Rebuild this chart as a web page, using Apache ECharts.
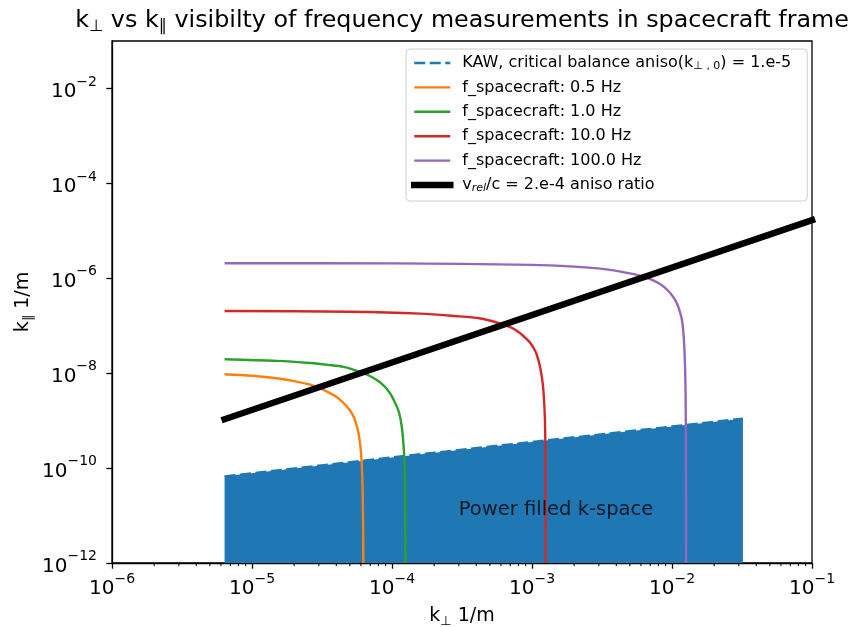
<!DOCTYPE html>
<html>
<head>
<meta charset="utf-8">
<script src="https://cdn.jsdelivr.net/npm/echarts@6/dist/echarts.min.js"></script>
<style>
  html, body { margin: 0; padding: 0; background: #ffffff; }
  #chart { width: 861px; height: 627px; }
</style>
</head>
<body>
<div id="chart"></div>
<script>
// ---- axis ranges and ticks (wavenumbers in 1/m) ----
const xMin = 1e-6, xMax = 1e-1;
const yMin = 1e-12, yMax = 1e-1;
const xMajorTicks = [1e-6, 1e-5, 1e-4, 1e-3, 1e-2, 1e-1];
const yMajorTicks = [1e-12, 1e-10, 1e-8, 1e-6, 1e-4, 1e-2];
const minorMultipliers = [2, 3, 4, 5, 6, 7, 8, 9];

// ---- KAW critical-balance boundary (top of the filled region) ----
const kawKperp = [6.37e-6, 3e-5, 1e-4, 1e-3, 1e-2, 3.21e-2];
const kawKpar  = [6.7e-11, 1.12e-10, 1.68e-10, 3.55e-10, 7.5e-10, 1.1e-9];

// ---- contours of constant spacecraft-frame frequency ----
const f05Kperp = [6.37e-6, 1e-5, 1.51e-5, 2e-5, 2.61e-5, 3e-5, 3.43e-5, 4.0e-5, 4.51e-5, 5.0e-5, 5.32e-5, 5.55e-5, 5.77e-5, 5.9e-5, 6.01e-5, 6.12e-5, 6.2e-5, 6.24e-5];
const f05Kpar  = [9.5e-9, 8.8e-9, 7.8e-9, 6.8e-9, 5.7e-9, 4.9e-9, 4.1e-9, 3.2e-9, 2.35e-9, 1.65e-9, 1.2e-9, 8.5e-10, 5.4e-10, 3.4e-10, 2.05e-10, 8e-11, 1.5e-11, 1e-12];

const f1Kperp = [6.37e-6, 1.5e-5, 2.61e-5, 3.5e-5, 4.51e-5, 5.95e-5, 7.0e-5, 7.82e-5, 8.5e-5, 9.0e-5, 9.73e-5, 1.03e-4, 1.08e-4, 1.125e-4, 1.17e-4, 1.2e-4, 1.225e-4, 1.24e-4, 1.245e-4];
const f1Kpar  = [1.97e-8, 1.82e-8, 1.64e-8, 1.5e-8, 1.36e-8, 1.06e-8, 8.6e-9, 7.1e-9, 5.9e-9, 5.0e-9, 3.7e-9, 2.7e-9, 2.0e-9, 1.45e-9, 8e-10, 4e-10, 1.6e-10, 3e-11, 1e-12];

const f10Kperp = [6.37e-6, 5e-5, 1.6e-4, 2.8e-4, 4.28e-4, 5.6e-4, 7.0e-4, 8.0e-4, 8.71e-4, 9.7e-4, 1.057e-3, 1.11e-3, 1.145e-3, 1.19e-3, 1.215e-3, 1.235e-3, 1.245e-3, 1.25e-3];
const f10Kpar  = [2.05e-7, 1.97e-7, 1.8e-7, 1.6e-7, 1.42e-7, 1.17e-7, 9.3e-8, 7.4e-8, 6.0e-8, 4.4e-8, 2.9e-8, 1.9e-8, 1.3e-8, 6.5e-9, 3.2e-9, 1.2e-9, 3e-10, 1e-12];

const f100Kperp = [6.37e-6, 1e-4, 1e-3, 2e-3, 3.08e-3, 4.2e-3, 5.32e-3, 6.2e-3, 7.0e-3, 8.2e-3, 9.2e-3, 1.03e-2, 1.08e-2, 1.114e-2, 1.17e-2, 1.2e-2, 1.225e-2, 1.245e-2, 1.255e-2, 1.26e-2];
const f100Kpar  = [2.08e-6, 2.06e-6, 1.92e-6, 1.76e-6, 1.6e-6, 1.4e-6, 1.22e-6, 1.09e-6, 9.6e-7, 7.6e-7, 5.8e-7, 3.9e-7, 3.0e-7, 2.4e-7, 1.45e-7, 8.5e-8, 3.5e-8, 8e-9, 1e-9, 1e-12];

// ---- anisotropy ratio line ----
const anisoKperp = [6.37e-6, 1e-1];
const anisoKpar  = [1.07e-9, 1.68e-5];

// ---- annotation ----
const regionLabel = 'Power filled k-space';
const regionLabelAt = [3e-4, 1e-11];

// ---- series names (legend entries) ----
const nameKaw  = 'KAW, critical balance aniso(k⊥,0) = 1.e-5';
const name05   = 'f_spacecraft: 0.5 Hz';
const name1    = 'f_spacecraft: 1.0 Hz';
const name10   = 'f_spacecraft: 10.0 Hz';
const name100  = 'f_spacecraft: 100.0 Hz';
const nameAniso = 'vrel/c = 2.e-4 aniso ratio';

const legendRich = {};
legendRich[nameKaw]   = 'KAW, critical balance aniso(k{sub|⊥ , 0}) = 1.e-5';
legendRich[nameAniso] = 'v{subi|rel}/c = 2.e-4 aniso ratio';

const FONT = 'DejaVu Sans';
const C = {
  blue: '#1f77b4', orange: '#ff7f0e', green: '#2ca02c',
  red: '#d62728', purple: '#9467bd', black: '#000000'
};
const CURVE_W = 2.4, ANISO_W = 6.5;

function pairs(xs, ys) { return xs.map((x, i) => [x, ys[i]]); }

// minor tick positions on the k_perp axis: 2..9 x each decade
const xMinorTicks = [];
for (let e = -6; e < -1; e++) {
  minorMultipliers.forEach(m => xMinorTicks.push(m * Math.pow(10, e)));
}

function powLabel(v) {
  const e = Math.round(Math.log10(v));
  return '{b|10}{e|' + (e < 0 ? '\u2212' : '') + Math.abs(e) + '}';
}

const tickRich = {
  b: { fontFamily: FONT, fontSize: 20, color: '#000', lineHeight: 27, verticalAlign: 'bottom' },
  e: { fontFamily: FONT, fontSize: 14, color: '#000', lineHeight: 27, verticalAlign: 'top' }
};

function lineSeries(name, xs, ys, color, width) {
  return {
    name: name, type: 'line', data: pairs(xs, ys),
    showSymbol: false, symbol: 'none', smooth: 0.3, z: 3,
    lineStyle: { color: color, width: width, cap: 'butt', join: 'round' },
    itemStyle: { color: color },
    emphasis: { disabled: true }
  };
}

const chart = echarts.init(document.getElementById('chart'), null, { renderer: 'canvas' });

chart.setOption({
  animation: false,
  backgroundColor: '#ffffff',
  title: {
    text: '{t|k}{s|⊥}{t| vs k}{s|∥}{t| visibilty of frequency measurements in spacecraft frame}',
    left: 457, top: 2, textAlign: 'center',
    textStyle: {
      fontWeight: 'normal',
      rich: {
        t: { fontFamily: FONT, fontSize: 23.8, fontWeight: 'normal', color: '#000', lineHeight: 28, verticalAlign: 'middle' },
        s: { fontFamily: FONT, fontSize: 16.5, fontWeight: 'normal', color: '#000', lineHeight: 28, verticalAlign: 'bottom' }
      }
    }
  },
  grid: {
    left: 112, top: 41, width: 700, height: 522,
    outerBoundsMode: 'none',
    show: true, borderColor: '#000', borderWidth: 1.3, backgroundColor: 'transparent',
    containLabel: false
  },
  legend: {
    data: [
      { name: nameKaw, lineStyle: { width: CURVE_W } },
      { name: name05, lineStyle: { width: CURVE_W } },
      { name: name1, lineStyle: { width: CURVE_W } },
      { name: name10, lineStyle: { width: CURVE_W } },
      { name: name100, lineStyle: { width: CURVE_W } },
      { name: nameAniso, lineStyle: { width: ANISO_W, cap: 'square' } }
    ],
    orient: 'vertical', left: 406, top: 49,
    padding: [5, 16, 7, 5], itemGap: 6.4,
    itemWidth: 36, itemHeight: 10,
    backgroundColor: 'rgba(255,255,255,0.8)',
    borderColor: '#cccccc', borderWidth: 1, borderRadius: 4,
    selectedMode: false,
    itemStyle: { opacity: 0 },
    formatter: n => legendRich[n] || n,
    textStyle: {
      fontFamily: FONT, fontSize: 16, color: '#000', lineHeight: 18,
      padding: [0, 0, 0, 7],
      rich: {
        sub:  { fontFamily: FONT, fontSize: 11, color: '#000', lineHeight: 18, verticalAlign: 'bottom' },
        subi: { fontFamily: FONT, fontSize: 11, fontStyle: 'italic', color: '#000', lineHeight: 18, verticalAlign: 'bottom' }
      }
    }
  },
  xAxis: {
    type: 'log', logBase: 10, min: xMin, max: xMax,
    name: '{k|k}{s|⊥}{k| 1/m}', nameLocation: 'middle', nameGap: 41, nameMoveOverlap: false,
    nameTextStyle: {
      rich: {
        k: { fontFamily: FONT, fontSize: 19, color: '#000', lineHeight: 24, verticalAlign: 'middle' },
        s: { fontFamily: FONT, fontSize: 13, color: '#000', lineHeight: 24, verticalAlign: 'bottom' }
      }
    },
    axisLine: { show: true, onZero: false, lineStyle: { color: '#000', width: 1.3 } },
    axisTick: { show: true, inside: false, length: 5.7, customValues: xMajorTicks, lineStyle: { color: '#000', width: 1.3 } },
    axisLabel: { show: true, margin: 9, customValues: xMajorTicks, formatter: powLabel, rich: tickRich },
    splitLine: { show: false }, minorTick: { show: false }, minorSplitLine: { show: false }
  },
  yAxis: {
    type: 'log', logBase: 10, min: yMin, max: yMax,
    name: '{k|k}{s|∥}{k| 1/m}', nameLocation: 'middle', nameGap: 77, nameMoveOverlap: false,
    nameTextStyle: {
      rich: {
        k: { fontFamily: FONT, fontSize: 19, color: '#000', lineHeight: 24, verticalAlign: 'middle' },
        s: { fontFamily: FONT, fontSize: 13, color: '#000', lineHeight: 24, verticalAlign: 'bottom' }
      }
    },
    axisLine: { show: true, onZero: false, lineStyle: { color: '#000', width: 1.3 } },
    axisTick: { show: true, inside: false, length: 5.7, customValues: yMajorTicks, lineStyle: { color: '#000', width: 1.3 } },
    axisLabel: { show: true, margin: 15, customValues: yMajorTicks, formatter: powLabel, rich: tickRich },
    splitLine: { show: false }, minorTick: { show: false }
  },
  series: [
    {
      name: nameKaw, type: 'line', data: pairs(kawKperp, kawKpar),
      showSymbol: false, symbol: 'none', z: 1,
      lineStyle: { color: C.blue, width: CURVE_W, type: [11, 4.5] },
      areaStyle: { color: C.blue, opacity: 1, origin: 'start' },
      itemStyle: { color: C.blue },
      emphasis: { disabled: true }
    },
    lineSeries(name05, f05Kperp, f05Kpar, C.orange, CURVE_W),
    lineSeries(name1, f1Kperp, f1Kpar, C.green, CURVE_W),
    lineSeries(name10, f10Kperp, f10Kpar, C.red, CURVE_W),
    lineSeries(name100, f100Kperp, f100Kpar, C.purple, CURVE_W),
    Object.assign(lineSeries(nameAniso, anisoKperp, anisoKpar, C.black, ANISO_W), {
      z: 4, smooth: false, lineStyle: { color: C.black, width: ANISO_W, cap: 'square' }
    }),
    {
      // short minor tick marks under the k_perp axis
      name: 'xMinorTicks', type: 'custom', silent: true, clip: false, z: 5,
      data: xMinorTicks.map(v => [v, yMin]),
      renderItem: function (params, api) {
        const p = api.coord([api.value(0), api.value(1)]);
        return {
          type: 'line',
          shape: { x1: p[0], y1: p[1], x2: p[0], y2: p[1] + 3.2 },
          style: { stroke: '#000', lineWidth: 1 }
        };
      }
    },
    {
      name: 'annotation', type: 'scatter', data: [regionLabelAt],
      symbolSize: 0, z: 6, silent: true,
      label: {
        show: true, formatter: regionLabel, position: [0, 0],
        align: 'left', verticalAlign: 'bottom', offset: [0, 4],
        fontFamily: FONT, fontSize: 19.5, color: '#000'
      }
    }
  ]
});
</script>
</body>
</html>
